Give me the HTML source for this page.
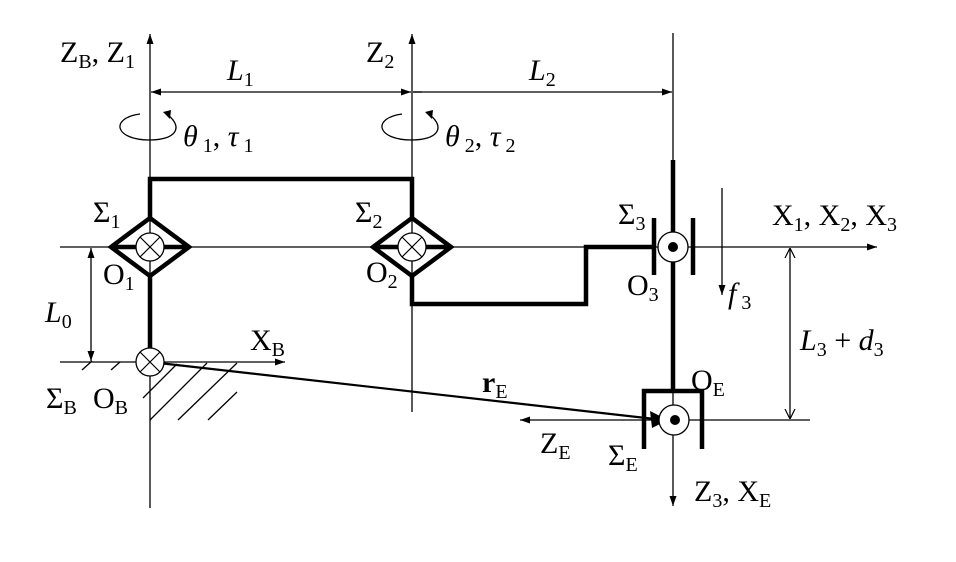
<!DOCTYPE html>
<html><head><meta charset="utf-8"><style>
html,body{margin:0;padding:0;background:#fff}
svg{display:block}
text{font-family:"Liberation Serif",serif;font-size:30px;fill:#000}
.s{font-size:20px}
.i{font-style:italic}
</style></head><body>
<svg width="956" height="562" viewBox="0 0 956 562" xmlns="http://www.w3.org/2000/svg">
<defs>
<marker id="a" viewBox="0 0 10 10" refX="10" refY="5" markerWidth="10" markerHeight="10" markerUnits="userSpaceOnUse" orient="auto"><path d="M0,1.5 L10,5 L0,8.5z" fill="#000"/></marker>
<marker id="o" viewBox="0 0 10 10" refX="10" refY="5" markerWidth="10" markerHeight="14" markerUnits="userSpaceOnUse" orient="auto"><path d="M0,0 L10,5 L0,10" fill="none" stroke="#000" stroke-width="1.2"/></marker>
</defs>
<g stroke="#000" stroke-width="1.3" fill="none">
<line x1="150" y1="508" x2="150" y2="34" marker-end="url(#a)"/>
<line x1="412" y1="412" x2="412" y2="34" marker-end="url(#a)"/>
<line x1="673" y1="33" x2="673" y2="506" marker-end="url(#a)"/>
<line x1="60" y1="247" x2="877" y2="247" marker-end="url(#a)"/>
<line x1="60" y1="362" x2="285" y2="362" marker-end="url(#a)"/>
<line x1="810" y1="420" x2="520" y2="420" marker-end="url(#a)"/>
<line x1="280" y1="92" x2="151" y2="92" marker-end="url(#a)"/>
<line x1="280" y1="92" x2="411" y2="92" marker-end="url(#a)"/>
<line x1="413" y1="92" x2="672" y2="92" marker-end="url(#a)"/>
<line x1="413" y1="92" x2="422" y2="92"/>
<line x1="91" y1="300" x2="91" y2="248" marker-end="url(#a)"/>
<line x1="91" y1="300" x2="91" y2="361" marker-end="url(#a)"/>
<line x1="790" y1="330" x2="790" y2="248" marker-end="url(#o)"/>
<line x1="790" y1="330" x2="790" y2="419" marker-end="url(#o)"/>
<line x1="722" y1="188" x2="722" y2="295" marker-end="url(#a)"/>
<line x1="82" y1="370" x2="92" y2="361"/>
<line x1="111" y1="370" x2="120" y2="362"/>
<line x1="143" y1="398" x2="177" y2="364"/>
<line x1="150" y1="420" x2="207" y2="363"/>
<line x1="178" y1="420" x2="237" y2="363"/>
<line x1="208" y1="420" x2="237" y2="392"/>
<path d="M140,114 C110,118 114,140 150,140 C175,140 184,128 168,115" />
<path d="M402,114 C372,118 376,140 412,140 C437,140 446,128 430,115" />
</g>
<path d="M163,112 L171,110 L170,119z" fill="#000"/>
<path d="M425,112 L433,110 L432,119z" fill="#000"/>
<g stroke="#000" stroke-width="4.5" fill="none">
<polyline points="150,218 150,179 412,179 412,218"/>
<line x1="150" y1="276" x2="150" y2="348"/>
<polyline points="412,276 412,304 586,304 586,247 654,247"/>
<path d="M111,247 L150,218 L189,247 L150,276z M111,247 H136 M164,247 H189"/>
<path d="M373,247 L412,218 L451,247 L412,276z M373,247 H398 M426,247 H451"/>
<line x1="654" y1="218" x2="654" y2="275"/>
<line x1="693" y1="218" x2="693" y2="275"/>
<line x1="673" y1="160" x2="673" y2="232"/>
<line x1="673" y1="262" x2="673" y2="391"/>
<polyline points="644,449 644,391 702,391 702,449"/>
</g>
<line x1="150" y1="362" x2="664" y2="420" stroke="#000" stroke-width="2.2"/>
<path d="M668,420 L650,411 L652,428z" fill="#000"/>
<g stroke="#000" stroke-width="1.3" fill="#fff">
<circle cx="150" cy="247" r="14"/><circle cx="412" cy="247" r="14"/><circle cx="150" cy="362" r="14"/>
<circle cx="673" cy="247" r="15"/><circle cx="674" cy="420" r="15"/>
</g>
<g stroke="#000" stroke-width="1.2">
<path d="M140,237 L160,257 M160,237 L140,257"/>
<path d="M402,237 L422,257 M422,237 L402,257"/>
<path d="M140,352 L160,372 M160,352 L140,372"/>
</g>
<circle cx="673" cy="247" r="5" fill="#000"/><circle cx="675" cy="420" r="5" fill="#000"/>
<text x="60" y="62">Z<tspan class="s" dy="6">B</tspan><tspan dy="-6">, Z</tspan><tspan class="s" dy="6">1</tspan></text>
<text x="366" y="62">Z<tspan class="s" dy="6">2</tspan></text>
<text x="227" y="80" class="i">L<tspan class="s" dy="6" font-style="normal">1</tspan></text>
<text x="529" y="80" class="i">L<tspan class="s" dy="6" font-style="normal">2</tspan></text>
<text x="183" y="146" class="i">θ<tspan class="s" dy="6" font-style="normal"> 1</tspan><tspan dy="-6" font-style="normal">, </tspan>τ<tspan class="s" dy="6" font-style="normal"> 1</tspan></text>
<text x="445" y="146" class="i">θ<tspan class="s" dy="6" font-style="normal"> 2</tspan><tspan dy="-6" font-style="normal">, </tspan>τ<tspan class="s" dy="6" font-style="normal"> 2</tspan></text>
<text x="93" y="222">Σ<tspan class="s" dy="6">1</tspan></text>
<text x="355" y="222">Σ<tspan class="s" dy="6">2</tspan></text>
<text x="618" y="224">Σ<tspan class="s" dy="6">3</tspan></text>
<text x="103" y="284">O<tspan class="s" dy="6">1</tspan></text>
<text x="366" y="282">O<tspan class="s" dy="6">2</tspan></text>
<text x="627" y="295">O<tspan class="s" dy="6">3</tspan></text>
<text x="772" y="225">X<tspan class="s" dy="6">1</tspan><tspan dy="-6">, X</tspan><tspan class="s" dy="6">2</tspan><tspan dy="-6">, X</tspan><tspan class="s" dy="6">3</tspan></text>
<text x="728" y="303" class="i">f<tspan class="s" dy="6" font-style="normal"> 3</tspan></text>
<text x="800" y="350" class="i">L<tspan class="s" dy="6" font-style="normal">3</tspan><tspan dy="-6" font-style="normal"> + </tspan>d<tspan class="s" dy="6" font-style="normal">3</tspan></text>
<text x="45" y="322" class="i">L<tspan class="s" dy="6" font-style="normal">0</tspan></text>
<text x="250" y="350">X<tspan class="s" dy="6">B</tspan></text>
<text x="46" y="408">Σ<tspan class="s" dy="6">B</tspan></text>
<text x="93" y="408">O<tspan class="s" dy="6">B</tspan></text>
<text x="482" y="392" font-weight="bold">r<tspan class="s" dy="6" font-weight="normal">E</tspan></text>
<text x="691" y="390">O<tspan class="s" dy="6">E</tspan></text>
<text x="540" y="453">Z<tspan class="s" dy="6">E</tspan></text>
<text x="608" y="465">Σ<tspan class="s" dy="6">E</tspan></text>
<text x="694" y="501">Z<tspan class="s" dy="6">3</tspan><tspan dy="-6">, X</tspan><tspan class="s" dy="6">E</tspan></text>
</svg>
</body></html>
